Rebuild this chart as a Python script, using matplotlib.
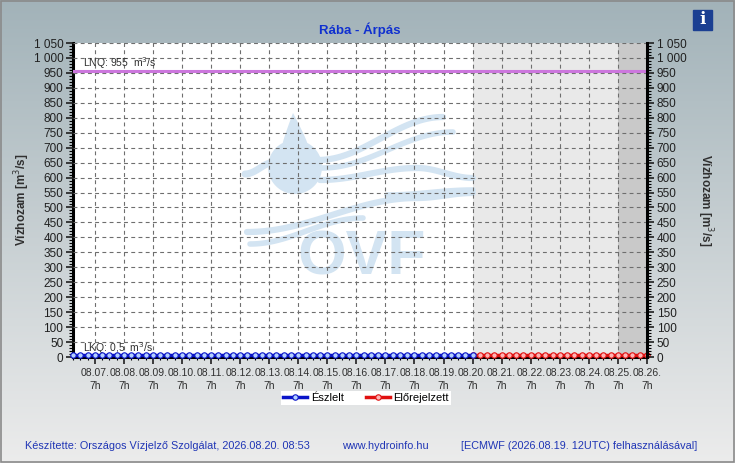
import numpy as np
import matplotlib
matplotlib.use("Agg")
import matplotlib.pyplot as plt
from matplotlib.ticker import MultipleLocator, FuncFormatter
from matplotlib.patches import Rectangle
from matplotlib.lines import Line2D

plt.rcParams['font.family'] = ['Liberation Sans', 'DejaVu Sans']

# --- data -------------------------------------------------------------
day_labels = ["08.07.", "08.08.", "08.09.", "08.10.", "08.11.", "08.12.",
              "08.13.", "08.14.", "08.15.", "08.16.", "08.17.", "08.18.",
              "08.19.", "08.20.", "08.21.", "08.22.", "08.23.", "08.24.",
              "08.25.", "08.26."]
hour_label = "7h"

# 6-hourly values, observed from 08.06. 13h to 08.20. 7h
observed = [8, 8, 8, 8, 8, 8, 8, 8, 8, 8, 8, 8, 8, 8, 8, 8,
            8, 8, 8, 8, 8, 8, 8, 8, 8, 8, 8, 8, 8, 8, 8, 8,
            8, 8, 8, 8, 8, 8, 8, 8, 8, 8, 8, 8, 8, 8, 8, 8,
            8, 8, 8, 8, 8, 8, 8, 8]
# forecast from 08.20. 7h to 08.26. 7h
forecast = [8, 8, 8, 8, 8, 8, 8, 8, 8, 8, 8, 8, 8, 8, 8, 8,
            8, 8, 8, 8, 8, 8, 8, 8, 8]
obs_start = -0.75   # days relative to 08.07. 7h
step = 0.25
lnq = 955
lkq = 0.5
forecast_light_end = 18   # 08.25. 7h

W, H = 735, 463

def fx(px):
    return px / W

def fy(py):
    return 1 - py / H

fig = plt.figure(figsize=(W / 100, H / 100), dpi=100)

# background gradient
bg = fig.add_axes([0, 0, 1, 1], zorder=-10)
top = np.array([0.635, 0.700, 0.725])
bot = np.array([0.925, 0.925, 0.925])
t = np.linspace(0, 1, 256)[:, None]
grad = top + (bot - top) * t
bg.imshow(grad[:, None, :], aspect='auto', extent=[0, 1, 0, 1])
bg.set_xlim(0, 1)
bg.set_ylim(0, 1)
bg.axis('off')
bg.add_patch(Rectangle((0.001, 0.002), 0.997, 0.996, fill=False,
                       edgecolor='#8a8a8a', lw=1.2, transform=bg.transAxes))

ax = fig.add_axes([fx(73), fy(357), (647 - 73) / W, (357 - 43) / H])
ax.set_xlim(obs_start, len(day_labels) - 1)
ax.set_ylim(0, 1050)
ax.set_facecolor('white')

obs_x = obs_start + step * np.arange(len(observed))
fc_x = obs_x[-1] + step * np.arange(len(forecast))

# forecast shading
ax.axvspan(obs_x[-1], forecast_light_end, color='#e9e9e9', zorder=0.5, lw=0)
ax.axvspan(forecast_light_end, len(day_labels) - 1, color='#c9c9c9', zorder=0.5, lw=0)

# watermark (OVF logo), drawn in pixel positions of the picture
def ax_pt(px, py):
    return (px - 73) / 574, (357 - py) / 314

wm = '#d3e4f2'
ax.text(*ax_pt(362, 258), "OVF", transform=ax.transAxes, fontsize=45,
        fontweight='bold', color=wm, ha='center', va='center', zorder=0.8)
# drop: rounded bottom with a pointed top
cx, cy, r, tip = 295, 167, 27, 113
a = np.linspace(-0.35 * np.pi, 1.35 * np.pi, 120)
bx = cx + r * np.cos(a)
by = cy + r * np.sin(a)
s = np.linspace(0, 1, 40)
rx = np.concatenate([bx, bx[-1] + (cx - 2 - bx[-1]) * s])
ry = np.concatenate([by, by[-1] + (tip - by[-1]) * s ** 0.9])
lx = bx[0] + (cx - 2 - bx[0]) * s[::-1]
ly = by[0] + (tip - by[0]) * s[::-1] ** 0.9
px_ = np.concatenate([rx, lx])
py_ = np.concatenate([ry, ly])
pts = np.array([ax_pt(u, v) for u, v in zip(px_, py_)])
ax.fill(pts[:, 0], pts[:, 1], color=wm, transform=ax.transAxes, zorder=0.8, lw=0)

def wave(x0, x1, y0, y1, lw):
    xs = np.linspace(x0, x1, 80)
    q = (xs - x0) / (x1 - x0)
    ys = y0 + (y1 - y0) * (0.5 - 0.5 * np.cos(np.pi * q))
    p = np.array([ax_pt(u, v) for u, v in zip(xs, ys)])
    ax.plot(p[:, 0], p[:, 1], color=wm, lw=lw, transform=ax.transAxes,
            zorder=0.8, solid_capstyle='round')

wave(318, 443, 160, 117, 4.5)
wave(322, 453, 168, 132, 4)
wave(245, 275, 174, 162, 5)
wave(320, 417, 180, 168, 4.5)
wave(417, 473, 168, 178, 4.5)
wave(387, 473, 195, 190, 4)
wave(247, 417, 232, 198, 4.5)
wave(417, 473, 198, 193, 4.5)
wave(250, 363, 244, 218, 4)

# ticks and grid
ax.set_xticks(range(len(day_labels)))
ax.set_xticklabels([f"{d}\n{hour_label}" for d in day_labels], linespacing=1.35)
ax.xaxis.set_minor_locator(MultipleLocator(step))
ax.yaxis.set_major_locator(MultipleLocator(50))
ax.yaxis.set_minor_locator(MultipleLocator(10))
ax.grid(True, which='major', color='#6e6e6e', lw=0.8, ls=(0, (3.5, 3)), zorder=1)
ax.set_axisbelow(False)

fmt = FuncFormatter(lambda v, p: f"{int(v):,}".replace(",", " "))
ax.yaxis.set_major_formatter(fmt)

ax.spines['top'].set_visible(False)
ax.spines['right'].set_visible(False)
ax.spines['left'].set_linewidth(2.2)
ax.spines['bottom'].set_linewidth(2.2)

ax.tick_params(axis='y', which='major', labelsize=8.5, colors='#202020',
               length=5, width=1.2, pad=2)
ax.tick_params(axis='y', which='minor', length=3, width=0.8)
ax.tick_params(axis='x', which='minor', length=2, width=0.8)
ax.tick_params(axis='x', which='major', labelsize=7.5, length=5, width=1.2,
               pad=3, colors='#202020', labelcolor='#303030')

ax2 = ax.twinx()
ax2.set_ylim(0, 1050)
ax2.yaxis.set_major_locator(MultipleLocator(50))
ax2.yaxis.set_minor_locator(MultipleLocator(10))
ax2.yaxis.set_major_formatter(fmt)
for s_ in ['top', 'left', 'bottom']:
    ax2.spines[s_].set_visible(False)
ax2.spines['right'].set_linewidth(2.2)
ax2.tick_params(axis='y', which='major', labelsize=8.5, colors='#202020',
                length=5, width=1.2, pad=2)
ax2.tick_params(axis='y', which='minor', length=3, width=0.8)

# LNQ / LKQ
ax.axhline(lnq, color='#cc77dd', lw=2.2, zorder=3)
ax.text(obs_start + 0.35, lnq + 3, "LNQ: 955  m$^3$/s", fontsize=7.5,
        color='#303030', va='bottom', zorder=4)
ax.text(obs_start + 0.35, lkq + 2, "LKQ: 0,5  m$^3$/s", fontsize=7.5,
        color='#303030', va='bottom', zorder=4)

# series
ax.plot(fc_x, forecast, color='#e01010', lw=2.5, marker='o', ms=3.9,
        mfc='#ffb4b4', mec='#e01010', mew=0.8, clip_on=False, zorder=5)
ax.plot(obs_x, observed, color='#0a14c8', lw=2.5, marker='o', ms=3.9,
        mfc='#b4d0ff', mec='#0a14c8', mew=0.8, clip_on=False, zorder=6)

# labels
fig.text(fx(360), fy(30), "Rába - Árpás", ha='center', va='center',
         fontsize=9.5, fontweight='bold', color='#1030d0')
fig.text(fx(22), fy(200), "Vízhozam [m$^3$/s]", rotation=90, ha='center',
         va='center', fontsize=8.5, fontweight='bold', color='#303030')
fig.text(fx(705), fy(200), "Vízhozam [m$^3$/s]", rotation=270, ha='center',
         va='center', fontsize=8.5, fontweight='bold', color='#303030')

handles = [
    Line2D([], [], color='#0a14c8', lw=2.5, marker='o', ms=3.9,
           mfc='#b4d0ff', mec='#0a14c8', mew=0.8),
    Line2D([], [], color='#e01010', lw=2.5, marker='o', ms=3.9,
           mfc='#ffb4b4', mec='#e01010', mew=0.8),
]
leg = fig.legend(handles, ["Észlelt", "Előrejelzett"], loc='center',
                 bbox_to_anchor=(fx(366), fy(398)), ncol=2, fontsize=8,
                 frameon=True, fancybox=False, edgecolor='white',
                 framealpha=1, handlelength=2.2, handletextpad=0.3,
                 columnspacing=2.0, borderpad=0.2, markerscale=1)
leg.get_frame().set_linewidth(0)

foot = '#1f35b5'
fig.text(fx(25), fy(446), "Készítette: Országos Vízjelző Szolgálat, 2026.08.20. 08:53",
         fontsize=7.8, color=foot, va='center')
fig.text(fx(342), fy(446), "www.hydroinfo.hu", fontsize=7.8, color=foot, va='center')
fig.text(fx(697), fy(446), "[ECMWF (2026.08.19. 12UTC) felhasználásával]",
         fontsize=7.8, color=foot, va='center', ha='right')

# info icon
bg.add_patch(Rectangle((fx(693), fy(30)), 19 / W, 20 / H, color='#1b3f92',
                       transform=bg.transAxes))
bg.text(fx(702.5), fy(20), "i", fontsize=12, fontweight='bold', color='white',
        ha='center', va='center', family='DejaVu Serif', transform=bg.transAxes)

fig.savefig("out.png", dpi=100)
